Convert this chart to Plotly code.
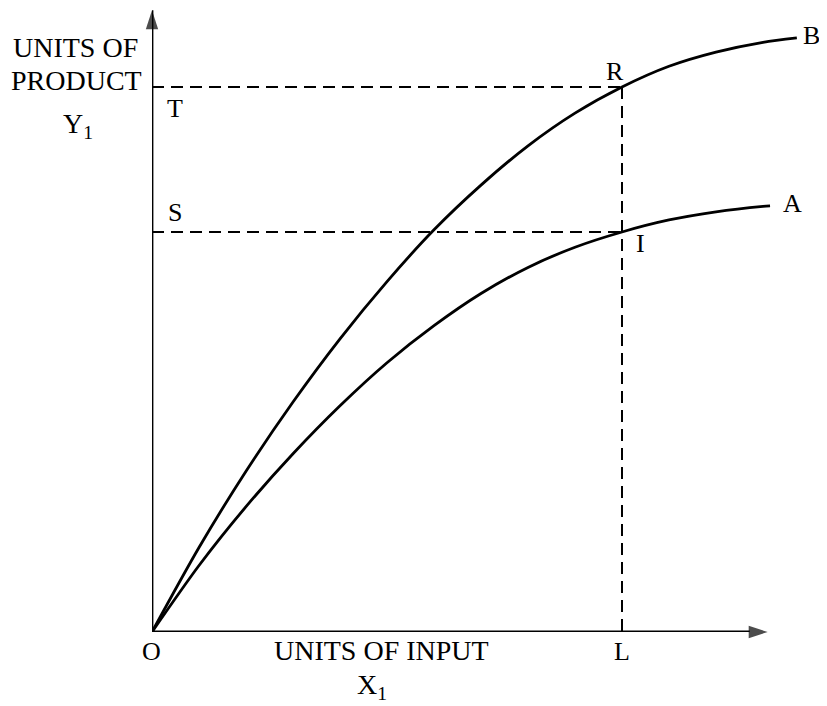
import plotly.graph_objects as go

# ---- data (x: units of input, y: units of product) ----
curve_b_x = [0, 1, 2, 3, 4, 5, 6, 7, 8, 9, 10, 11, 12, 13, 13.72]
curve_b_y = [0, 1.55, 2.95, 4.22, 5.38, 6.43, 7.38, 8.20, 8.92, 9.52, 10.0, 10.38, 10.64, 10.82, 10.90]

curve_a_x = [0, 1, 2, 3, 4, 5, 6, 7, 8, 9, 10, 11, 12, 13, 13.15]
curve_a_y = [0, 1.22, 2.30, 3.27, 4.15, 4.94, 5.62, 6.21, 6.69, 7.06, 7.34, 7.56, 7.71, 7.81, 7.82]

input_L = 10.0        # point L on the input axis
output_R = 10.0       # level T (point R on curve B)
output_I = 7.34       # level S (point I on curve A)

x_axis_end = 13.1
y_axis_end = 11.41

FONT = "Liberation Serif"
BLACK = "#000000"

fig = go.Figure()

# axes with arrowheads
for ax_x, ax_y in (([0, x_axis_end], [0, 0]), ([0, 0], [0, y_axis_end])):
    fig.add_trace(go.Scatter(
        x=ax_x, y=ax_y, mode="lines+markers",
        line=dict(color=BLACK, width=2.8),
        marker=dict(symbol="arrow", size=[0, 20], angleref="previous", color=BLACK,
                    line=dict(width=0)),
        hoverinfo="skip", showlegend=False, cliponaxis=False))

# dashed guide lines
dash = "12px,7px"
guides = [([0, input_L], [output_R, output_R]),
          ([0, input_L], [output_I, output_I]),
          ([input_L, input_L], [output_R, 0])]
for gx, gy in guides:
    fig.add_trace(go.Scatter(x=gx, y=gy, mode="lines",
                             line=dict(color=BLACK, width=2, dash=dash),
                             hoverinfo="skip", showlegend=False))

# production curves
for cx, cy in ((curve_b_x, curve_b_y), (curve_a_x, curve_a_y)):
    fig.add_trace(go.Scatter(x=cx, y=cy, mode="lines",
                             line=dict(color=BLACK, width=2.8, shape="spline", smoothing=0.8),
                             hoverinfo="skip", showlegend=False, cliponaxis=False))

LBL = dict(family=FONT, size=26, color=BLACK)

def point_label(text, x, y, dx, dy):
    fig.add_annotation(x=x, y=y, xref="x", yref="y", text=text, showarrow=False,
                       xanchor="center", yanchor="middle",
                       xshift=dx, yshift=dy, font=LBL)

point_label("T", 0, output_R, 23, -21)
point_label("S", 0, output_I, 23, 19)
point_label("R", input_L, output_R, -7, 16)
point_label("I", input_L, output_I, 18, -12)
point_label("B", curve_b_x[-1], curve_b_y[-1], 15, 2)
point_label("A", curve_a_x[-1], curve_a_y[-1], 22, 2)
point_label("O", 0, 0, -1, -19)
point_label("L", input_L, 0, 0, -19)

# axis titles (paper coordinates)
def paper_label(text, x, y, size=28):
    fig.add_annotation(x=x, y=y, xref="paper", yref="paper", text=text,
                       xanchor="center", yanchor="middle",
                       showarrow=False, font=dict(family=FONT, size=size, color=BLACK))

paper_label("UNITS OF", -0.117, 0.939)
paper_label("PRODUCT", -0.115, 0.887)
paper_label("Y<sub>1</sub>", -0.112, 0.815)
paper_label("UNITS OF INPUT", 0.3495, -0.029)
paper_label("X<sub>1</sub>", 0.334, -0.087)

fig.update_layout(
    width=819, height=698,
    margin=dict(l=144, r=17, t=2, b=74),
    paper_bgcolor="white", plot_bgcolor="white",
    xaxis=dict(range=[0, 14.0], visible=False, fixedrange=True),
    yaxis=dict(range=[0, 11.413], visible=False, fixedrange=True),
    showlegend=False,
)

fig.write_html("out.html")
